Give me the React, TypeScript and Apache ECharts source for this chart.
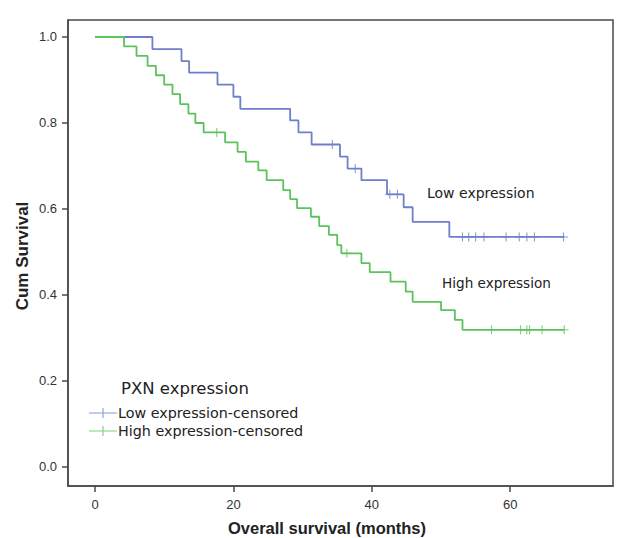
import React, { useEffect, useRef } from "react";
import * as echarts from "echarts";

// Kaplan–Meier step points (time in months, cumulative survival after the event)
const lowTimes = [0, 8.3, 12.5, 13.6, 17.7, 20.0, 21.0, 28.2, 29.4, 31.3, 35.4, 36.5, 38.5, 42.2, 44.6, 45.9, 51.2, 67.8];
const lowSurvival = [1.0, 0.972, 0.944, 0.917, 0.889, 0.861, 0.833, 0.806, 0.778, 0.75, 0.722, 0.694, 0.667, 0.634, 0.604, 0.57, 0.535, 0.535];
const lowCensorTimes = [34.3, 37.6, 42.6, 43.7, 53.1, 54.0, 55.0, 56.2, 59.4, 61.3, 62.4, 63.5, 67.7];
const lowCensorSurvival = [0.75, 0.694, 0.634, 0.634, 0.535, 0.535, 0.535, 0.535, 0.535, 0.535, 0.535, 0.535, 0.535];

const highTimes = [0, 4.2, 6.0, 7.6, 8.8, 10.0, 11.2, 12.3, 13.5, 14.5, 15.7, 18.8, 20.6, 21.8, 23.6, 24.8, 27.2, 28.2, 29.2, 31.2, 32.4, 33.8, 35.0, 35.6, 38.5, 39.7, 42.7, 44.9, 45.9, 50.0, 52.0, 53.1, 67.8];
const highSurvival = [1.0, 0.978, 0.956, 0.933, 0.911, 0.889, 0.867, 0.844, 0.822, 0.8, 0.778, 0.755, 0.733, 0.71, 0.69, 0.667, 0.644, 0.623, 0.602, 0.582, 0.56, 0.54, 0.516, 0.497, 0.474, 0.453, 0.431, 0.408, 0.384, 0.365, 0.342, 0.319, 0.319];
const highCensorTimes = [17.6, 36.4, 57.3, 61.5, 62.4, 62.8, 64.6, 67.8];
const highCensorSurvival = [0.778, 0.497, 0.319, 0.319, 0.319, 0.319, 0.319, 0.319];

const xTicks = [0, 20, 40, 60];
const yTicks = [0, 0.2, 0.4, 0.6, 0.8, 1.0];

const curveNames = ["Low expression", "High expression"];
const censorNames = ["Low expression-censored", "High expression-censored"];
const legendTitle = "PXN expression";
const xTitle = "Overall survival (months)";
const yTitle = "Cum Survival";

const BLUE = "#6f7fcb";
const GREEN = "#5cc25c";
const FRAME = "#4a4a4a";

const plusSymbol = "path://M0,4.4H10V5.6H0Z M4.4,0H5.6V10H4.4Z";
const legendIcon = "path://M0,4.45H28V5.55H0Z M13.45,0H14.55V10H13.45Z";

export default function App() {
  const ref = useRef<HTMLDivElement>(null);

  useEffect(() => {
    const chart = echarts.init(ref.current!, null, { renderer: "svg" });
    const zip = (a: number[], b: number[]) => a.map((t, i) => [t, b[i]]);

    chart.setOption({
      animation: false,
      backgroundColor: "#ffffff",
      grid: {
        left: 68,
        right: 11,
        top: 20,
        bottom: 52,
        show: true,
        borderColor: FRAME,
        borderWidth: 1.5,
      },
      xAxis: {
        type: "value",
        min: -3.9,
        max: 74.85,
        splitLine: { show: false },
        axisLine: { show: true, onZero: false, lineStyle: { color: FRAME, width: 1.5 } },
        axisTick: { show: true, customValues: xTicks, length: 6, lineStyle: { color: FRAME, width: 1.5 } },
        axisLabel: {
          customValues: xTicks,
          margin: 12,
          fontSize: 13,
          color: "#333",
          fontFamily: "Liberation Sans",
        },
      },
      yAxis: {
        type: "value",
        min: -0.0442,
        max: 1.0395,
        splitLine: { show: false },
        axisLine: { show: true, onZero: false, lineStyle: { color: FRAME, width: 1.5 } },
        axisTick: { show: true, customValues: yTicks, length: 6, lineStyle: { color: FRAME, width: 1.5 } },
        axisLabel: {
          customValues: yTicks,
          margin: 11,
          fontSize: 13,
          color: "#333",
          fontFamily: "Liberation Sans",
          formatter: (v: number) => v.toFixed(1),
        },
      },
      legend: {
        data: censorNames,
        orient: "vertical",
        left: 84,
        top: 401,
        itemWidth: 28,
        itemHeight: 10,
        itemGap: 4,
        icon: legendIcon,
        textStyle: { fontSize: 14.3, color: "#222", fontFamily: "DejaVu Sans", padding: [0, 0, 0, -4] },
      },
      series: [
        {
          name: curveNames[0],
          type: "line",
          step: "end",
          symbol: "none",
          data: zip(lowTimes, lowSurvival),
          lineStyle: { color: BLUE, width: 1.8 },
          itemStyle: { color: BLUE },
        },
        {
          name: curveNames[1],
          type: "line",
          step: "end",
          symbol: "none",
          data: zip(highTimes, highSurvival),
          lineStyle: { color: GREEN, width: 1.8 },
          itemStyle: { color: GREEN },
        },
        {
          name: censorNames[0],
          type: "scatter",
          symbol: plusSymbol,
          symbolSize: 9,
          data: zip(lowCensorTimes, lowCensorSurvival),
          itemStyle: { color: BLUE },
          z: 3,
        },
        {
          name: censorNames[1],
          type: "scatter",
          symbol: plusSymbol,
          symbolSize: 9,
          data: zip(highCensorTimes, highCensorSurvival),
          itemStyle: { color: GREEN },
          z: 3,
        },
      ],
      graphic: [
        {
          type: "text",
          x: 121,
          y: 388,
          style: { text: legendTitle, fontSize: 16.5, fill: "#222", fontFamily: "DejaVu Sans", verticalAlign: "middle", align: "left" },
        },
        {
          type: "text",
          x: 427,
          y: 193,
          style: { text: curveNames[0], fontSize: 14, fill: "#222", fontFamily: "DejaVu Sans", verticalAlign: "middle", align: "left" },
        },
        {
          type: "text",
          x: 442,
          y: 283,
          style: { text: curveNames[1], fontSize: 13.6, fill: "#222", fontFamily: "DejaVu Sans", verticalAlign: "middle", align: "left" },
        },
        {
          type: "text",
          x: 327,
          y: 528,
          style: { text: xTitle, fontSize: 16.5, fontWeight: "bold", fill: "#222", fontFamily: "Liberation Sans", verticalAlign: "middle", align: "center" },
        },
        {
          type: "text",
          x: 22,
          y: 256,
          rotation: Math.PI / 2,
          style: { text: yTitle, fontSize: 17, fontWeight: "bold", fill: "#222", fontFamily: "Liberation Sans", verticalAlign: "middle", align: "center" },
        },
      ],
    });

    return () => chart.dispose();
  }, []);

  return <div ref={ref} style={{ position: "fixed", left: 0, top: 0, width: 624, height: 538 }} />;
}
